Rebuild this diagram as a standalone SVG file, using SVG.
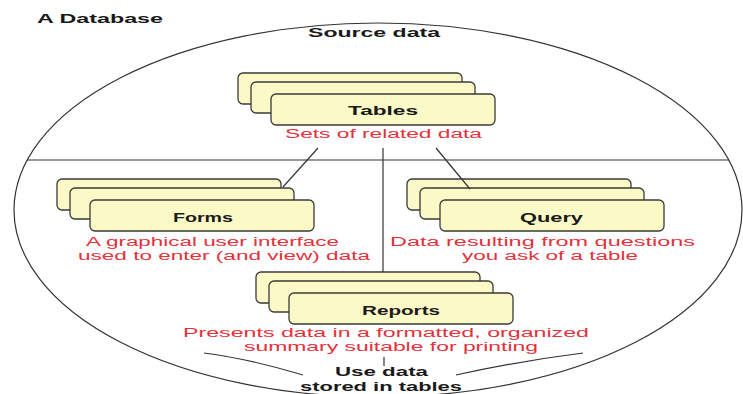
<svg xmlns="http://www.w3.org/2000/svg" width="743" height="394" viewBox="0 0 743 394">
<defs>
<style>
.card{fill:#fbf9c6;stroke:#3a3a3a;stroke-width:1.3}
.lbl{font-family:"Liberation Sans",Arial,sans-serif;font-weight:bold;font-size:13px;fill:#1a1a1a}
.red{font-family:"Liberation Sans",Arial,sans-serif;font-size:12.5px;fill:#e3323c}
.ln{stroke:#333;stroke-width:1.2;fill:none}
</style>
<g id="stack">
<rect class="card" x="0" y="0" width="224" height="31" rx="5"/>
<rect class="card" x="13" y="9" width="224" height="31" rx="5"/>
<rect class="card" x="33" y="21" width="224" height="31" rx="5"/>
</g>
</defs>
<rect width="743" height="394" fill="#ffffff"/>
<text class="lbl" x="37" y="23" font-size="15" textLength="126" lengthAdjust="spacingAndGlyphs">A Database</text>
<g id="database">
<ellipse cx="378" cy="210" rx="364" ry="187" class="ln"/>
<line x1="27" y1="160" x2="729" y2="160" class="ln"/>
<text class="lbl" x="308" y="37" textLength="132" lengthAdjust="spacingAndGlyphs">Source data</text>
</g>
<g id="tables">
<use href="#stack" x="238" y="73"/>
<text class="lbl" x="348" y="115" textLength="70" lengthAdjust="spacingAndGlyphs">Tables</text>
<text class="red" x="285" y="138" textLength="197" lengthAdjust="spacingAndGlyphs">Sets of related data</text>
</g>
<g id="forms">
<use href="#stack" x="57" y="179"/>
<text class="lbl" x="173" y="222" textLength="60" lengthAdjust="spacingAndGlyphs">Forms</text>
<text class="red" x="86" y="246" textLength="253" lengthAdjust="spacingAndGlyphs">A graphical user interface</text>
<text class="red" x="78" y="260" textLength="292" lengthAdjust="spacingAndGlyphs">used to enter (and view) data</text>
</g>
<g id="query">
<use href="#stack" x="407" y="179"/>
<text class="lbl" x="520" y="222" textLength="63" lengthAdjust="spacingAndGlyphs">Query</text>
<text class="red" x="390" y="246" textLength="305" lengthAdjust="spacingAndGlyphs">Data resulting from questions</text>
<text class="red" x="462" y="260" textLength="176" lengthAdjust="spacingAndGlyphs">you ask of a table</text>
</g>
<g id="reports">
<use href="#stack" x="256" y="272"/>
<text class="lbl" x="362" y="315" textLength="78" lengthAdjust="spacingAndGlyphs">Reports</text>
<text class="red" x="183" y="337" textLength="406" lengthAdjust="spacingAndGlyphs">Presents data in a formatted, organized</text>
<text class="red" x="244" y="351" textLength="294" lengthAdjust="spacingAndGlyphs">summary suitable for printing</text>
</g>
<g id="connectors">
<line x1="318" y1="148" x2="283" y2="187" class="ln"/>
<line x1="383" y1="148" x2="383" y2="272" class="ln"/>
<line x1="436" y1="148" x2="470" y2="189" class="ln"/>
</g>
<g id="usedata">
<line x1="384" y1="357" x2="384" y2="366" class="ln"/>
<path d="M204 353 Q250 359 303 375" class="ln"/>
<path d="M583 353 Q520 361 456 375" class="ln"/>
<text class="lbl" x="335" y="376" textLength="93" lengthAdjust="spacingAndGlyphs">Use data</text>
<text class="lbl" x="300" y="391" textLength="162" lengthAdjust="spacingAndGlyphs">stored in tables</text>
</g>
</svg>
